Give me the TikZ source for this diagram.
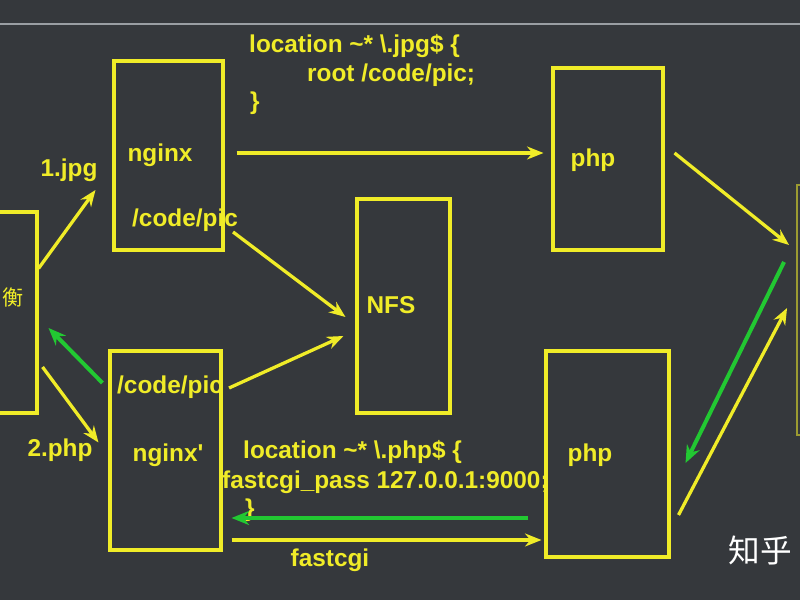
\documentclass[tikz,border=0pt]{standalone}
\usepackage{fontspec}
\setmainfont{Liberation Sans}
\newfontfamily\cjkfont{Noto Sans CJK SC}
\usetikzlibrary{arrows.meta, positioning, calc}
\definecolor{bgdark}{HTML}{35383C}
\definecolor{ylw}{HTML}{F0EC28}
\definecolor{grn}{HTML}{22C832}
\definecolor{rulegray}{HTML}{9A9EA3}

\begin{document}
\begin{tikzpicture}[x=0.03cm, y=-0.03cm,
  box/.style 2 args={draw=ylw, line width=2.6pt, minimum width=#1*0.03cm,
    minimum height=#2*0.03cm, inner sep=0pt},
  lbl/.style={text=ylw, font=\bfseries\fontsize{20.8}{24}\selectfont, inner sep=0pt},
  code/.style={lbl, anchor=west},
  fwd/.style={draw=ylw, line width=2.8pt, -{Stealth[length=14pt,width=11pt]}},
  back/.style={draw=grn, line width=3.4pt, -{Stealth[length=15pt,width=12pt]}}]
  % Canvas
  \useasboundingbox (0,0) rectangle (800,600);
  \fill[bgdark] (0,0) rectangle (800,600);
  \clip (0,0) rectangle (800,600);
  \draw[rulegray, line width=1.5pt] (0,24) -- (800,24);
  % Boxes
  \node[box={67}{201}] (lb) at (3.5,312.5) {};
  \node[box={109}{189}] (nginx) at (168.5,155.5) {};
  \node[box={111}{199}] (nginxp) at (165.5,450.5) {};
  \node[box={93}{214}] (nfs) at (403.5,306) {};
  \node[box={110}{182}] (phpa) at (608,159) {};
  \node[box={123}{206}] (phpb) at (607.5,454) {};
  \node[box={62}{250}, draw=ylw!55!bgdark, line width=1.6pt] (rb) at (828,310) {};
  % Box texts
  \node[text=ylw, font=\cjkfont\fontsize{18}{20}\selectfont, inner sep=0pt] (heng) at (13,297) {衡};
  \node[lbl] (ngxname) at (160,155) {nginx};
  \node[lbl] (pica) at (185,220) {/code/pic};
  \node[lbl] (picb) at (170,387) {/code/pic};
  \node[lbl] (ngxpname) at (168,455) {nginx\textquotesingle};
  \node[lbl] (nfsname) at (391,305) {NFS};
  \node[lbl] (phpaname) at (593,160) {php};
  \node[lbl] (phpbname) at (590,455) {php};
  % Config snippets
  \node[code] (jpgloc) at (249,46) {location \textasciitilde* \textbackslash.jpg\$ \{};
  \node[code] (jpgroot) at (307,75) {root /code/pic;};
  \node[code] (jpgend) at (250,103) {\}};
  \node[code] (phploc) at (243,452) {location \textasciitilde* \textbackslash.php\$ \{};
  \node[code] (phppass) at (222,482) {fastcgi\_pass 127.0.0.1:9000;};
  \node[code] (phpend) at (245,510) {\}};
  % Arrow labels
  \node[lbl] (jpgreq) at (69,170) {1.jpg};
  \node[lbl] (phpreq) at (60,450) {2.php};
  \node[lbl] (fcgi) at (330,560) {fastcgi};
  % Requests
  \draw[fwd] ($(lb.east)+(0,-44)$) -- ($(nginx.west)+(-17,34.5)$);
  \draw[fwd] ($(lb.east)+(4,54.5)$) -- ($(nginxp.west)+(-10,-8)$);
  \draw[fwd] ($(nginx.east)+(12,-2.5)$) -- ($(phpa.west)+(-8,-6)$);
  \draw[fwd] ($(pica.east)+(-5,12)$) -- ($(nfs.west)+(-10,11)$);
  \draw[fwd] ($(picb.east)+(6,1)$) -- ($(nfs.west)+(-12,30)$);
  \draw[fwd] ($(phpa.east)+(10,-6)$) -- ($(rb.west)+(-7,-65)$);
  \draw[fwd] ($(phpb.east)+(8,61)$) -- ($(rb.west)+(-9,-2)$);
  \draw[fwd] ($(nginxp.east)+(9,89.5)$) -- ($(phpb.west)+(-3,86)$);
  % Responses
  \draw[back] ($(rb.west)+(-12,-48)$) -- ($(phpb.east)+(15,9)$);
  \draw[back] ($(phpb.west)+(-16,64)$) -- ($(nginxp.east)+(9,67.5)$);
  \draw[back] ($(nginxp.west)+(-6,-67.5)$) -- ($(lb.east)+(10,15.5)$);
  % Watermark
  \node[text=white, font=\cjkfont\fontsize{27}{30}\selectfont, inner sep=0pt] (zhihu) at (760,550) {知乎};
\end{tikzpicture}
\end{document}
